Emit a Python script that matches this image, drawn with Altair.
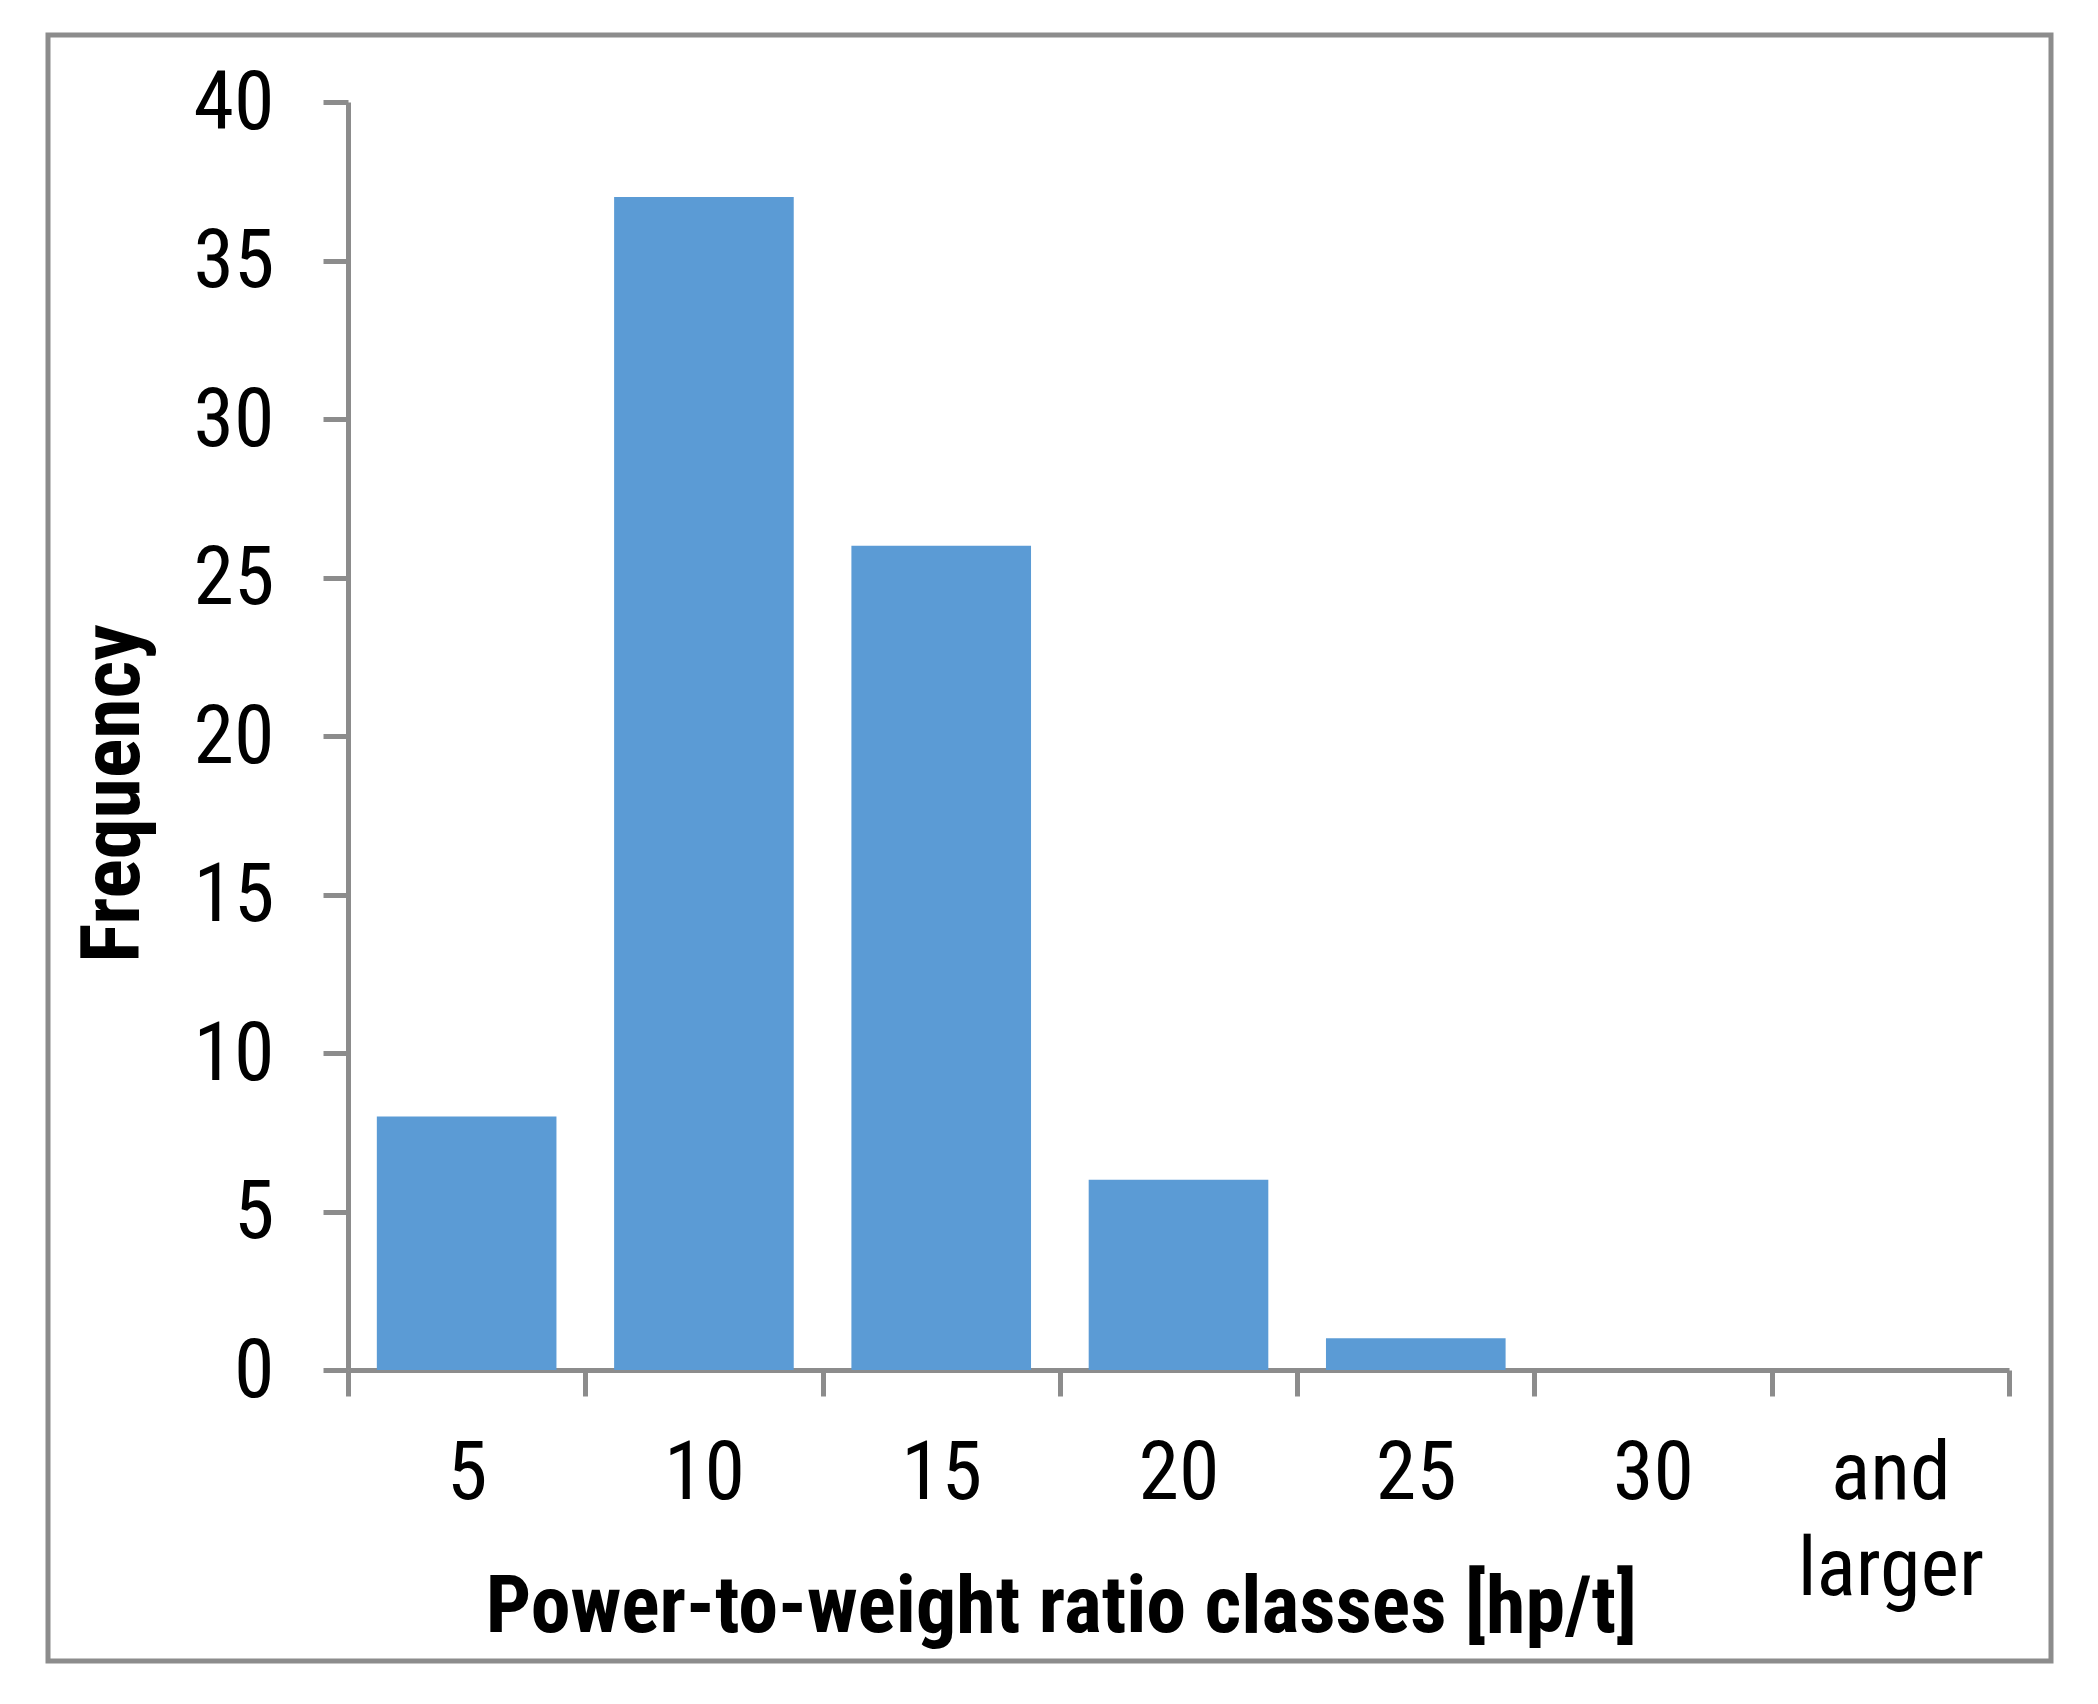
import altair as alt
import pandas as pd

classes = ["5", "10", "15", "20", "25", "30", "and larger"]
frequency = [8, 37, 26, 6, 1, 0, 0]
y_ticks = [0, 5, 10, 15, 20, 25, 30, 35, 40]

FONT = "Roboto Condensed, Noto Sans Condensed, Liberation Sans Narrow, Arial Narrow, Liberation Sans, sans-serif"
GRAY = "#8C8C8C"
BLUE = "#5B9BD5"

df = pd.DataFrame({"cls": classes, "freq": frequency})

bars = alt.Chart(df).mark_bar(
    color=BLUE, width=alt.RelativeBandSize(0.757)
).encode(
    x=alt.X(
        "cls:N",
        sort=None,
        scale=alt.Scale(paddingInner=0, paddingOuter=0),
        axis=alt.Axis(
            title="Power-to-weight ratio classes [hp/t]",
            labelAngle=0,
            tickBand="extent",
            tickSize=26,
            tickWidth=5,
            tickColor=GRAY,
            domainColor=GRAY,
            domainWidth=5,
            labelFont=FONT,
            labelFontSize=82,
            labelColor="black",
            labelPadding=37,
            labelBaseline="top",
            labelLineHeight=96,
            labelLimit=0,
            labelExpr="split(datum.label, ' ')",
            labelOverlap=False,
            labelFlush=False,
            labelBound=False,
            titleFont=FONT,
            titleFontSize=80,
            titleFontWeight="bold",
            titleColor="black",
            titleLimit=0,
            titleX=713,
            titleY=261,
            titleAlign="center",
            titleBaseline="alphabetic",
        ),
    ),
    y=alt.Y(
        "freq:Q",
        scale=alt.Scale(domain=[0, 40], nice=False),
        axis=alt.Axis(
            title="Frequency",
            values=y_ticks,
            grid=False,
            tickSize=25,
            tickWidth=5,
            tickColor=GRAY,
            domainColor=GRAY,
            domainWidth=5,
            labelFont=FONT,
            labelFontSize=82,
            labelColor="black",
            labelPadding=49,
            labelOffset=1,
            titleFont=FONT,
            titleFontSize=82,
            titleFontWeight="bold",
            titleColor="black",
            titleX=-210,
            titleY=691,
            titleAngle=270,
            titleAlign="center",
            titleBaseline="alphabetic",
        ),
    ),
)

frame = alt.Chart(pd.DataFrame({"k": [0]})).mark_rect(
    fill="transparent", stroke=GRAY, strokeWidth=5
).encode(
    x=alt.value(-300), x2=alt.value(1703),
    y=alt.value(-67), y2=alt.value(1559),
)

chart = alt.layer(frame, bars).properties(
    width=1661,
    height=1268,
    autosize=alt.AutoSizeParams(type="none"),
    padding={"left": 340, "top": 94, "right": 80, "bottom": 320},
    background="white",
).configure_view(strokeWidth=0)

chart.save("out.html", embed_options={"renderer": "svg", "actions": False})
